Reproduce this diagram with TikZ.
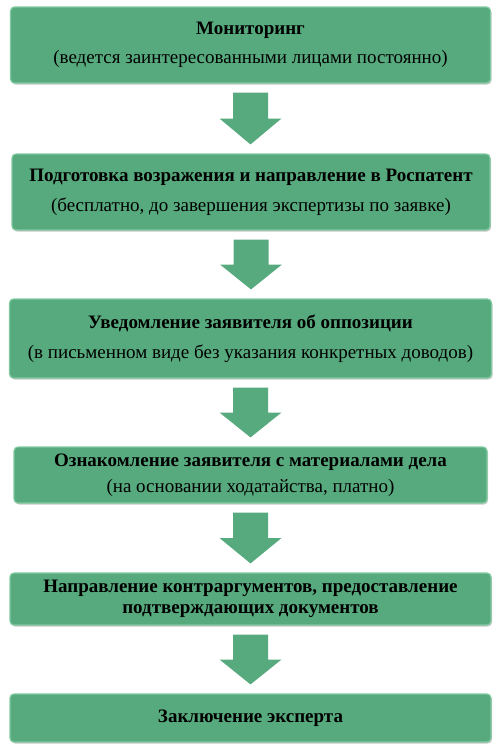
\documentclass[tikz,border=0pt]{standalone}
\usepackage{fontspec}
\setmainfont{Liberation Serif}
\usetikzlibrary{calc,shadows}
\definecolor{boxgreen}{RGB}{87,170,126}
\definecolor{edgegreen}{RGB}{128,202,160}
\begin{document}
\begin{tikzpicture}[x=1pt,y=-1pt,
  stepbox/.style={rectangle, rounded corners=4pt, fill=boxgreen, draw=edgegreen,
    line width=1.2pt, inner sep=0pt, align=center,
    font=\fontsize{19}{21}\selectfont,
    drop shadow={shadow xshift=1pt, shadow yshift=-1.5pt, opacity=0.35, fill=black!60}},
  flowarrow/.style={fill=boxgreen}
  ]
\useasboundingbox (0,0) rectangle (500,750);
\node[stepbox, minimum width=480pt, minimum height=76pt] (b1) at (250.5,45)
  {\textbf{Мониторинг}\\[8pt](ведется заинтересованными лицами постоянно)};
\node[stepbox, minimum width=478pt, minimum height=76pt] (b2) at (251,192)
  {\textbf{Подготовка возражения и направление в Роспатент}\\[9pt](бесплатно, до завершения экспертизы по заявке)};
\node[stepbox, minimum width=482pt, minimum height=79pt] (b3) at (250.5,338.5)
  {\textbf{Уведомление заявителя об оппозиции}\\[9pt](в письменном виде без указания конкретных доводов)};
\node[stepbox, minimum width=473pt, minimum height=56pt] (b4) at (250.5,475)
  {\textbf{Ознакомление заявителя с материалами дела}\\[5pt](на основании ходатайства, платно)};
\node[stepbox, minimum width=481pt, minimum height=52pt] (b5) at (250.5,599)
  {\fontsize{19}{20}\selectfont\textbf{Направление контраргументов, предоставление}\\\textbf{подтверждающих документов}};
\node[stepbox, minimum width=481pt, minimum height=48pt] (b6) at (250.5,718)
  {\textbf{Заключение эксперта}};
\foreach \a/\b in {b1/b2,b2/b3,b3/b4,b4/b5,b5/b6}{
  \path ($(\a.south)+(0,9)$) coordinate (s)
        ($(\b.north)+(0,-9)$) coordinate (t)
        ($(s)!0.5!(t)$) coordinate (m);
  \fill[flowarrow] let \p1=(s), \p2=(t), \p3=(m) in
    (\x1-17.5pt,\y1) -- (\x1+17.5pt,\y1) -- (\x1+17.5pt,\y3) -- (\x1+31pt,\y3)
    -- (\x1,\y2) -- (\x1-31pt,\y3) -- (\x1-17.5pt,\y3) -- cycle;
}
\end{tikzpicture}
\end{document}
